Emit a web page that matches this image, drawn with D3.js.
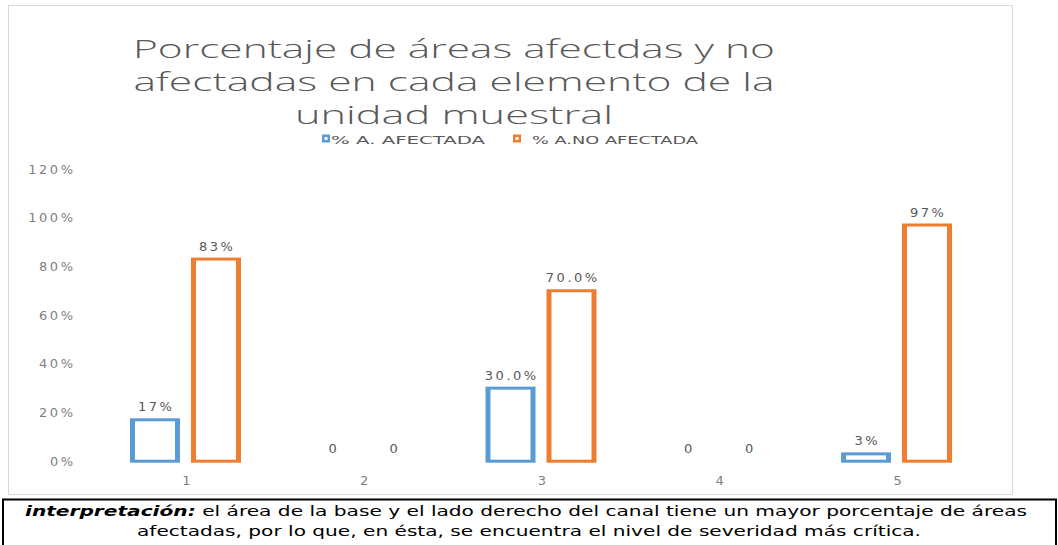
<!DOCTYPE html>
<html>
<head>
<meta charset="utf-8">
<script src="https://cdn.jsdelivr.net/npm/d3@7"></script>
<style>
  html, body { margin: 0; padding: 0; background: #ffffff; }
  svg { display: block; }
</style>
</head>
<body>
<svg id="chart" width="1058" height="545"></svg>
<script>
// ---- data ----
const categories = ["1", "2", "3", "4", "5"];
const seriesNames = ["% A. AFECTADA", "% A.NO AFECTADA"];
const afectada = [0.17, 0, 0.30, 0, 0.03];
const noAfectada = [0.83, 0, 0.70, 0, 0.97];
const labelsAfectada = ["17%", "0", "30.0%", "0", "3%"];
const labelsNoAfectada = ["83%", "0", "70.0%", "0", "97%"];
const yTicks = [0, 0.2, 0.4, 0.6, 0.8, 1.0, 1.2];
const titleLines = ["Porcentaje de áreas afectdas y no", "afectadas en cada elemento de la", "unidad muestral"];
const noteLabel = "interpretación:";
const noteLine1 = "  el área de la base y el lado derecho del canal  tiene un mayor porcentaje de áreas";
const noteLine2 = "afectadas, por lo que, en ésta, se encuentra el nivel de severidad más crítica.";

const colors = ["#5B9BD5", "#ED7D31"];
const svg = d3.select("#chart");

// chart frame
svg.append("rect").attr("x", 8.5).attr("y", 5.5).attr("width", 1004).attr("height", 489)
  .attr("fill", "#ffffff").attr("stroke", "#d9d9d9").attr("stroke-width", 1);

// title
const titleX = 454;
const titleBase = [58, 91, 124];
const titleWidths = [642, 641, 318];
titleLines.forEach((t, i) => {
  svg.append("text").attr("x", titleX).attr("y", titleBase[i])
    .attr("text-anchor", "middle")
    .attr("font-family", "'Open Sans', 'DejaVu Sans', sans-serif")
    .attr("font-weight", 300)
    .attr("font-size", 25).attr("fill", "#595959")
    .attr("textLength", titleWidths[i]).attr("lengthAdjust", "spacingAndGlyphs")
    .text(t);
});

// legend
const legendItems = [
  { sx: 322, tx: 331, tw: 154 },
  { sx: 513, tx: 532, tw: 166 }
];
seriesNames.forEach((name, i) => {
  const L = legendItems[i];
  svg.append("rect").attr("x", L.sx).attr("y", 134.5).attr("width", 8).attr("height", 8)
    .attr("fill", colors[i]);
  svg.append("rect").attr("x", L.sx + 2.5).attr("y", 137).attr("width", 3).attr("height", 3)
    .attr("fill", "#ffffff");
  svg.append("text").attr("x", L.tx).attr("y", 143.5)
    .attr("font-family", "'DejaVu Sans', sans-serif").attr("font-size", 11)
    .attr("fill", "#595959")
    .attr("textLength", L.tw).attr("lengthAdjust", "spacingAndGlyphs")
    .text(name);
});

// scales
const y = d3.scaleLinear().domain([0, 1.2]).range([461.2, 169]);
const x0 = d3.scaleBand().domain(categories).range([96.6, 985.4]).padding(0);
const bw = x0.bandwidth();
const x1 = d3.scaleBand().domain(seriesNames)
  .range([(bw - 111) / 2, (bw + 111) / 2]).paddingInner(11 / 61).paddingOuter(0);

// y tick labels
const ls = 2.5;
svg.append("g").selectAll("text").data(yTicks).join("text")
  .attr("x", 73 + ls).attr("y", d => y(d))
  .attr("dy", "0.35em")
  .attr("text-anchor", "end")
  .attr("font-family", "'DejaVu Sans', sans-serif").attr("font-size", 13)
  .attr("letter-spacing", ls + "px")
  .attr("fill", "#7f7f7f")
  .text(d => d3.format(".0%")(d));

// category labels
svg.append("g").selectAll("text").data(categories).join("text")
  .attr("x", d => x0(d) + bw / 2 + 1).attr("y", 485)
  .attr("text-anchor", "middle")
  .attr("font-family", "'DejaVu Sans', sans-serif").attr("font-size", 13)
  .attr("fill", "#7f7f7f")
  .text(d => d);

// bars: outline drawn as colored outer box with white inner box
const series = [
  { name: seriesNames[0], values: afectada, labels: labelsAfectada, color: colors[0] },
  { name: seriesNames[1], values: noAfectada, labels: labelsNoAfectada, color: colors[1] }
];
const bx = 5, by = 3, half = 1.5;
series.forEach(s => {
  const g = svg.append("g");
  const data = categories.map((c, i) => ({ c, v: s.values[i], l: s.labels[i] }));
  const nz = data.filter(d => d.v > 0);
  g.selectAll("rect.outer").data(nz).join("rect").attr("class", "outer")
    .attr("x", d => x0(d.c) + x1(s.name))
    .attr("y", d => y(d.v) - half)
    .attr("width", x1.bandwidth())
    .attr("height", d => y(0) - y(d.v) + 2 * half)
    .attr("fill", s.color);
  g.selectAll("rect.inner").data(nz).join("rect").attr("class", "inner")
    .attr("x", d => x0(d.c) + x1(s.name) + bx)
    .attr("y", d => y(d.v) - half + by)
    .attr("width", x1.bandwidth() - 2 * bx)
    .attr("height", d => Math.max(0, y(0) - y(d.v) + 2 * half - 2 * by))
    .attr("fill", "#ffffff");
  g.selectAll("text").data(data).join("text")
    .attr("x", d => x0(d.c) + x1(s.name) + x1.bandwidth() / 2 + ls / 2)
    .attr("y", d => y(d.v) - 8.5)
    .attr("text-anchor", "middle")
    .attr("font-family", "'DejaVu Sans', sans-serif").attr("font-size", 13)
    .attr("letter-spacing", ls + "px")
    .attr("fill", "#595959")
    .text(d => d.l);
});

// interpretation box
svg.append("rect").attr("x", 3).attr("y", 499.5).attr("width", 1053).attr("height", 50)
  .attr("fill", "#ffffff").attr("stroke", "#000000").attr("stroke-width", 2);
const n1 = svg.append("text").attr("x", 526).attr("y", 516)
  .attr("text-anchor", "middle")
  .attr("font-family", "'DejaVu Sans', sans-serif").attr("font-size", 14)
  .attr("fill", "#000000")
  .attr("textLength", 1002).attr("lengthAdjust", "spacingAndGlyphs");
n1.append("tspan").attr("font-weight", "bold").attr("font-style", "italic").text(noteLabel);
n1.append("tspan").text(noteLine1);
svg.append("text").attr("x", 529).attr("y", 536)
  .attr("text-anchor", "middle")
  .attr("font-family", "'DejaVu Sans', sans-serif").attr("font-size", 14)
  .attr("fill", "#000000")
  .attr("textLength", 784).attr("lengthAdjust", "spacingAndGlyphs")
  .text(noteLine2);
</script>
</body>
</html>
